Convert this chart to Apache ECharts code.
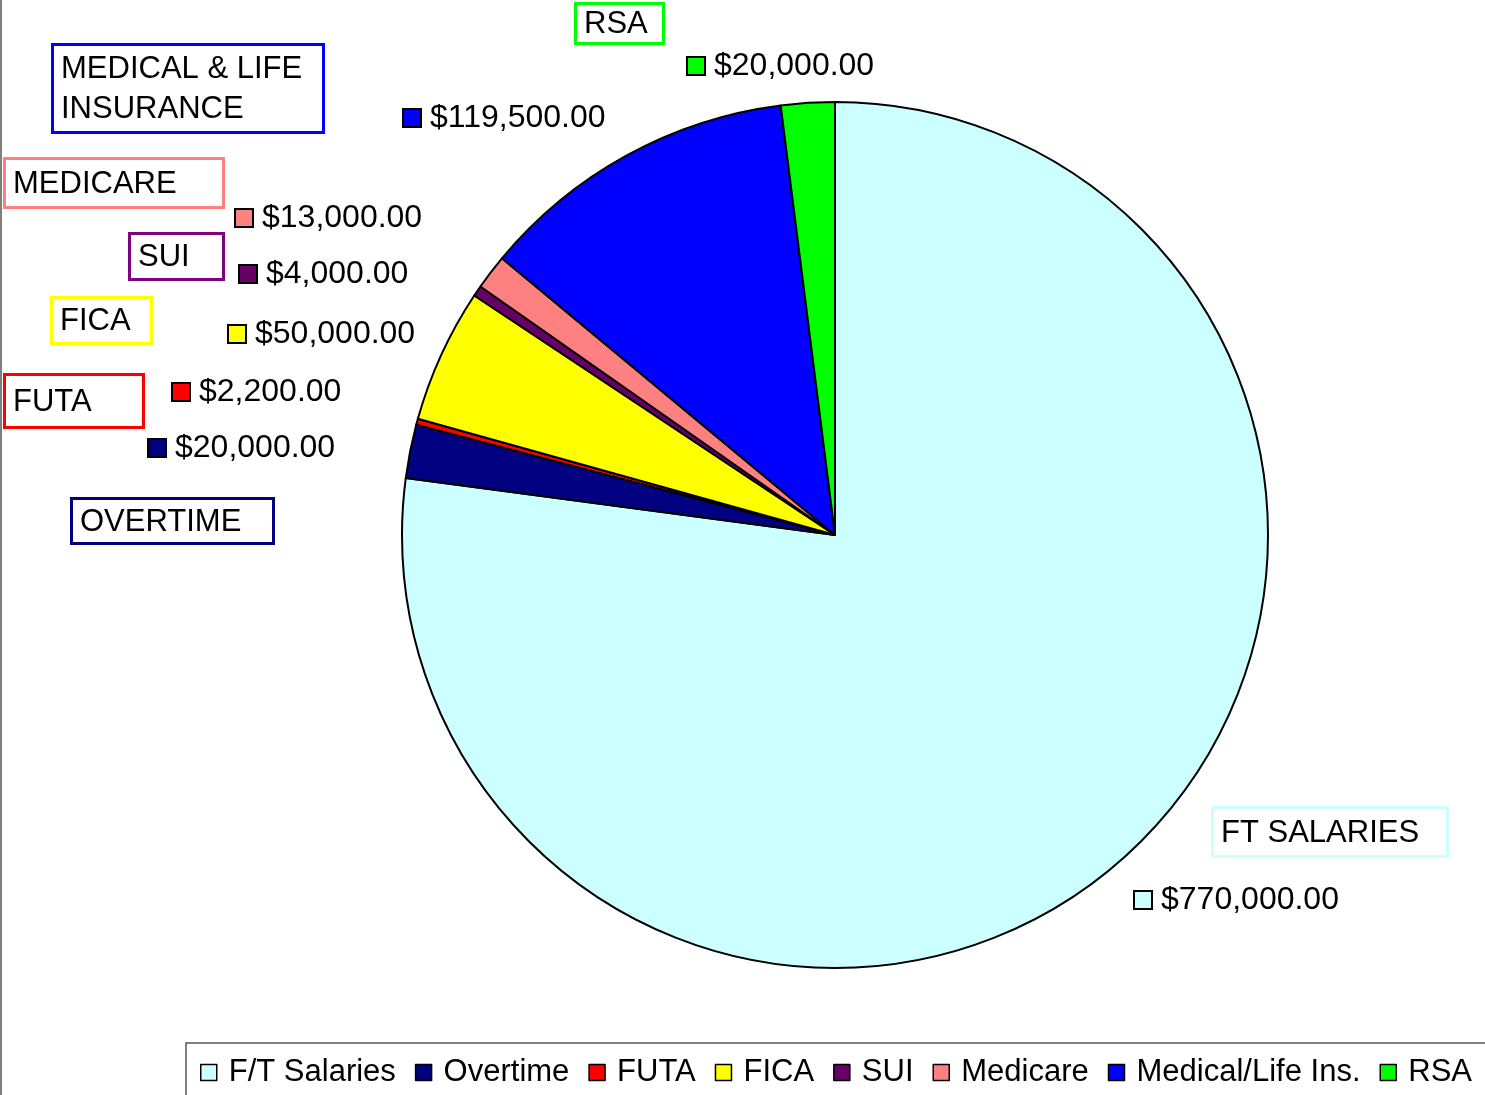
<!DOCTYPE html>
<html>
<head>
<meta charset="utf-8">
<script src="https://cdn.jsdelivr.net/npm/echarts@6/dist/echarts.min.js"></script>
<style>
html,body{margin:0;padding:0;background:#fff;}
#chart{width:1485px;height:1095px;}
</style>
</head>
<body>
<div id="chart"></div>
<script>
// ---- data ----
const categories = ['F/T Salaries','Overtime','FUTA','FICA','SUI','Medicare','Medical/Life Ins.','RSA'];
const values = [770000, 20000, 2200, 50000, 4000, 13000, 119500, 20000];
const colors = ['#CCFFFF','#000080','#FF0000','#FFFF00','#660066','#FF8080','#0000FF','#00FF00'];
const boxNames = ['FT SALARIES','OVERTIME','FUTA','FICA','SUI','MEDICARE','MEDICAL & LIFE\nINSURANCE','RSA'];
const boxColors = ['#CCFFFF','#000080','#FF0000','#FFFF00','#800080','#FF8080','#0000FF','#00FF00'];

// ---- layout (positions of labels / boxes) ----
const labelPos = [[1135,900],[149,448],[173,392],[229,334],[240,274],[236,218],[404,118],[688,66]];
const boxRects = [[1211,806,238,52],[70,497,205,48],[3,373,142,56],[50,296,103,49],[128,232,97,49],[3,157,222,52],[51,43,274,91],[574,2,91,43]];

const FONT = "'Liberation Sans', Arial, sans-serif";

function money(v){
  const s = v.toFixed(2).split('.');
  return '$' + s[0].replace(/\B(?=(\d{3})+(?!\d))/g, ',') + '.' + s[1];
}

const rich = {};
colors.forEach((c,i)=>{
  rich['sq'+i] = {width:16, height:16, backgroundColor:c, borderColor:'#000', borderWidth:2};
});
rich.v = {fontSize:32, fontFamily:FONT, color:'#000', padding:[0,0,0,10]};

const graphics = [];
// chart left border line
graphics.push({type:'line', shape:{x1:1,y1:0,x2:1,y2:1095}, style:{stroke:'#555', lineWidth:1.5}, silent:true});
boxRects.forEach((r,i)=>{
  graphics.push({type:'rect', shape:{x:r[0]+1.5, y:r[1]+1.5, width:r[2]-3, height:r[3]-3},
    style:{fill:'#fff', stroke:boxColors[i], lineWidth:3}, silent:true});
  graphics.push({type:'text', x:r[0]+10, y:r[1]+r[3]/2+1,
    style:{text:boxNames[i], font:'31px ' + FONT, fill:'#000', textVerticalAlign:'middle', lineHeight:40, textAlign:'left'}, silent:true});
});

const chart = echarts.init(document.getElementById('chart'));
chart.setOption({
  animation:false,
  backgroundColor:'#fff',
  color: colors,
  legend:{
    left:186, top:1043, width:1295,
    orient:'horizontal',
    padding:[14,14,14,14],
    borderColor:'#555', borderWidth:1.5,
    itemWidth:16, itemHeight:16, itemGap:19,
    icon:'rect',
    itemStyle:{borderColor:'#000', borderWidth:1.5},
    textStyle:{fontSize:31, fontFamily:FONT, color:'#000', padding:[0,0,0,7]},
    data: categories
  },
  graphic: graphics,
  series:[{
    type:'pie',
    center:[835,535],
    radius:[0,433],
    startAngle:90,
    clockwise:true,
    avoidLabelOverlap:false,
    minAngle:0,
    itemStyle:{borderColor:'#000', borderWidth:2},
    emphasis:{disabled:true},
    data: categories.map((n,i)=>({name:n, value:values[i]})),
    label:{
      show:true,
      position:'outside',
      formatter:(p)=>'{sq'+p.dataIndex+'|}{v|'+money(p.value)+'}',
      rich: rich
    },
    labelLine:{show:false},
    labelLayout:(p)=>({x:labelPos[p.dataIndex][0], y:labelPos[p.dataIndex][1], align:'left', verticalAlign:'middle'})
  }]
});
</script>
</body>
</html>
